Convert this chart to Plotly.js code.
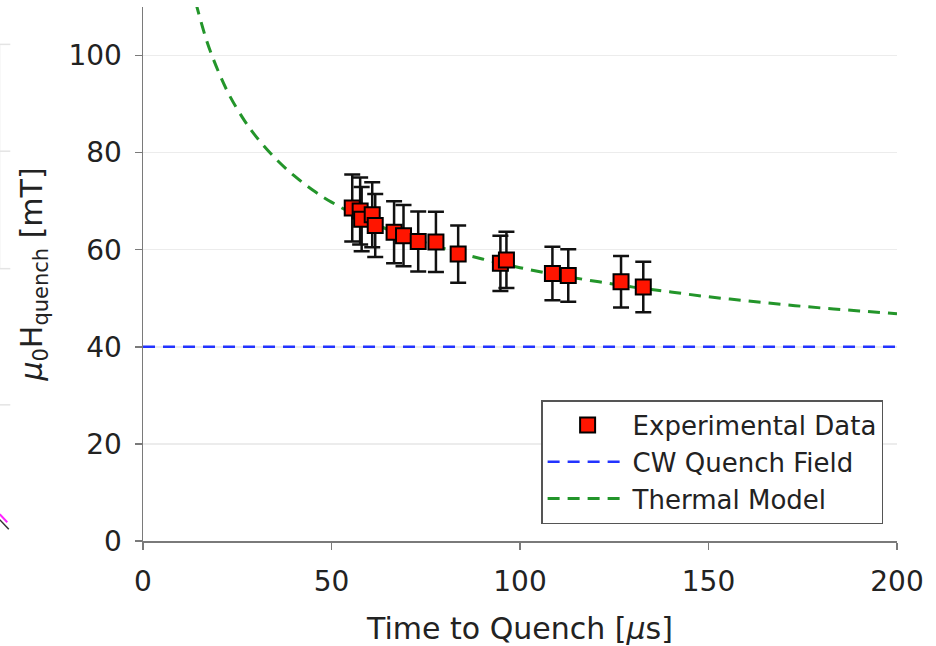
<!DOCTYPE html>
<html>
<head>
<meta charset="utf-8">
<script src="https://cdn.plot.ly/plotly-3.0.1.min.js"></script>
<style>html,body{margin:0;padding:0;background:#fff;}#chart{width:936px;height:646px;}</style>
</head>
<body>
<div id="chart"></div>
<script>
const timeToQuench = [55.5, 57.6, 58.0, 60.8, 61.6, 66.6, 69.1, 73.0, 77.7, 83.6, 94.8, 96.4, 108.6, 112.8, 126.8, 132.7];
const quenchField  = [68.6, 68.0, 66.3, 67.2, 65.0, 63.6, 62.9, 61.7, 61.6, 59.1, 57.2, 57.9, 55.1, 54.7, 53.4, 52.3];
const fieldError   = [6.9, 6.9, 6.6, 6.7, 6.5, 6.4, 6.3, 6.2, 6.2, 5.9, 5.7, 5.8, 5.5, 5.4, 5.3, 5.2];

// CW quench field (horizontal reference)
const cwTime  = [0, 200];
const cwField = [40, 40];

// Thermal model curve
const modelTime  = [14.0, 17, 20, 23, 27, 30, 35, 40, 45, 50, 60, 70, 80, 90, 100, 110, 120, 130, 140, 150, 160, 170, 180, 190, 200];
const modelField = [110.9, 102.8, 96.7, 91.7, 86.5, 83.3, 78.9, 75.3, 72.3, 69.8, 65.8, 62.7, 60.2, 58.1, 56.3, 54.8, 53.5, 52.3, 51.3, 50.3, 49.5, 48.7, 48.0, 47.4, 46.8];

const xTicks = [0, 50, 100, 150, 200];
const yTicks = [0, 20, 40, 60, 80, 100];

const FONT = '"DejaVu Sans", sans-serif';

const traces = [
  {
    x: modelTime, y: modelField, type: 'scatter', mode: 'lines',
    name: 'Thermal Model', legendrank: 3,
    line: {color: '#23952a', width: 3, dash: '12px,8px', shape: 'spline'},
    hoverinfo: 'skip'
  },
  {
    x: cwTime, y: cwField, type: 'scatter', mode: 'lines',
    name: 'CW Quench Field', legendrank: 2,
    line: {color: '#2233ff', width: 2.5, dash: '12px,8px'}
  },
  {
    x: timeToQuench, y: quenchField, type: 'scatter', mode: 'markers',
    name: 'Experimental Data', legendrank: 1,
    marker: {symbol: 'square', size: 15, color: '#ff1500', line: {color: '#000', width: 2}},
    error_y: {type: 'data', array: fieldError, visible: true, color: '#111', thickness: 2.5, width: 8}
  }
];

const layout = {
  width: 936, height: 646,
  margin: {l: 143, r: 39, t: 7, b: 105},
  paper_bgcolor: '#fff', plot_bgcolor: '#fff',
  font: {family: FONT, color: '#222'},
  showlegend: true,
  legend: {
    x: 0.528, y: 0.264, xanchor: 'left', yanchor: 'top',
    bgcolor: '#fff', bordercolor: '#555', borderwidth: 1.5,
    font: {family: FONT, size: 26, color: '#222'},
    itemwidth: 80, tracegroupgap: 0
  },
  xaxis: {
    range: [0, 200], tickvals: xTicks, ticktext: xTicks.map(String),
    showline: true, linecolor: '#7a7a7a', linewidth: 1.5,
    ticks: 'outside', ticklen: 7, tickcolor: '#7a7a7a', tickwidth: 1.5,
    ticklabelstandoff: 8,
    showgrid: false, zeroline: false,
    tickfont: {family: FONT, size: 28, color: '#222'},
    title: {text: 'Time to Quench [<i>μ</i>s]', font: {family: FONT, size: 30, color: '#222'}, standoff: 30},
    automargin: false
  },
  yaxis: {
    range: [0, 110], tickvals: yTicks, ticktext: yTicks.map(String),
    showline: true, linecolor: '#7a7a7a', linewidth: 1.5,
    ticks: 'outside', ticklen: 7, tickcolor: '#7a7a7a', tickwidth: 1.5,
    ticklabelstandoff: 7,
    showgrid: true, gridcolor: '#ececec', gridwidth: 1.5, zeroline: false,
    tickfont: {family: FONT, size: 28, color: '#222'},
    title: {text: '<i>μ</i><sub>0</sub>H<sub>quench</sub> [mT]', font: {family: FONT, size: 30, color: '#222'}, standoff: 17},
    automargin: false
  },
  shapes: [
    {type: 'line', xref: 'paper', yref: 'paper', x0: -0.19, x1: -0.19, y0: 0.51, y1: 0.93, line: {color: '#e4e4e4', width: 1}},
    {type: 'line', xref: 'paper', yref: 'paper', x0: -0.19, x1: -0.176, y0: 0.93, y1: 0.93, line: {color: '#e4e4e4', width: 1.5}},
    {type: 'line', xref: 'paper', yref: 'paper', x0: -0.19, x1: -0.176, y0: 0.73, y1: 0.73, line: {color: '#e4e4e4', width: 1.5}},
    {type: 'line', xref: 'paper', yref: 'paper', x0: -0.19, x1: -0.176, y0: 0.51, y1: 0.51, line: {color: '#e4e4e4', width: 1.5}},
    {type: 'line', xref: 'paper', yref: 'paper', x0: -0.19, x1: -0.176, y0: 0.255, y1: 0.255, line: {color: '#e4e4e4', width: 1.5}},
    {type: 'line', xref: 'paper', yref: 'paper', x0: -0.19, x1: -0.18, y0: 0.05, y1: 0.035, line: {color: '#ff22ff', width: 2}},
    {type: 'line', xref: 'paper', yref: 'paper', x0: -0.19, x1: -0.178, y0: 0.04, y1: 0.022, line: {color: '#333', width: 1.5}}
  ]
};

Plotly.newPlot('chart', traces, layout, {displayModeBar: false, staticPlot: true});
</script>
</body>
</html>
